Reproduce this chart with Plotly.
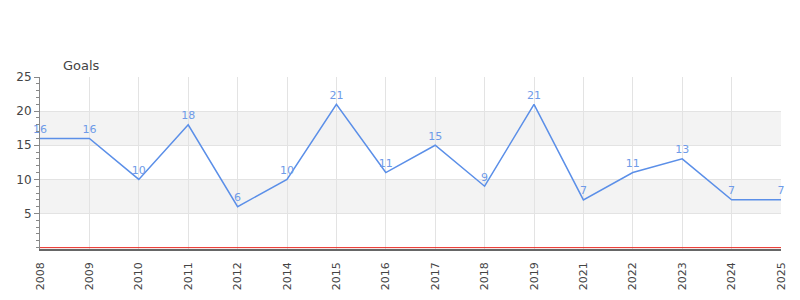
import plotly.graph_objects as go

years = ["2008", "2009", "2010", "2011", "2012", "2014", "2015", "2016",
         "2017", "2018", "2019", "2021", "2022", "2023", "2024", "2025"]
goals = [16, 16, 10, 18, 6, 10, 21, 11, 15, 9, 21, 7, 11, 13, 7, 7]
y_ticks = [5, 10, 15, 20, 25]
bands = [(5, 10), (15, 20)]

fig = go.Figure()
fig.add_trace(go.Scatter(
    x=years, y=goals, mode="lines+markers+text",
    text=[str(v) for v in goals], textposition="top center",
    textfont=dict(color="#6f9be8", size=11, family="DejaVu Sans"),
    line=dict(color="#5b8fe8", width=1.5),
    marker=dict(size=3, opacity=0),
    cliponaxis=False, hoverinfo="x+y",
))

shapes = []
for lo, hi in bands:
    shapes.append(dict(type="rect", xref="paper", yref="y", x0=0, x1=1, y0=lo, y1=hi,
                       fillcolor="#f3f3f3", line=dict(width=0), layer="below"))
shapes.append(dict(type="line", xref="paper", yref="y", x0=0, x1=1, y0=0, y1=0,
                   line=dict(color="#e8261e", width=1)))

fig.update_layout(
    width=800, height=300,
    margin=dict(l=40, r=19, t=77, b=51, autoexpand=False),
    paper_bgcolor="white", plot_bgcolor="white",
    font=dict(family="DejaVu Sans", color="#444444", size=11),
    showlegend=False,
    shapes=shapes,
    xaxis=dict(
        type="category", tickangle=-90, showgrid=True, gridcolor="#e3e3e3",
        showline=True, linecolor="#666666", linewidth=1.5, automargin=False,
        ticks="outside", ticklen=7, tickcolor="rgba(0,0,0,0)",
        tickfont=dict(size=11, color="#444444"),
        range=[0, len(years) - 1], zeroline=False,
    ),
    yaxis=dict(
        range=[-0.2, 25], tickvals=y_ticks, showgrid=True, gridcolor="#e3e3e3",
        showline=True, linecolor="#888888", linewidth=1, automargin=False,
        ticks="outside", ticklen=5, tickcolor="#888888",
        minor=dict(dtick=1, ticks="outside", ticklen=3, tickcolor="#888888", showgrid=False),
        zeroline=False, tickfont=dict(size=12, color="#444444"),
    ),
    annotations=[dict(text="Goals", xref="paper", yref="paper", x=0.028, y=1.0,
                      xanchor="left", yanchor="bottom", yshift=2, showarrow=False,
                      font=dict(size=13, color="#444444"))],
)

fig.write_html("out.html")
